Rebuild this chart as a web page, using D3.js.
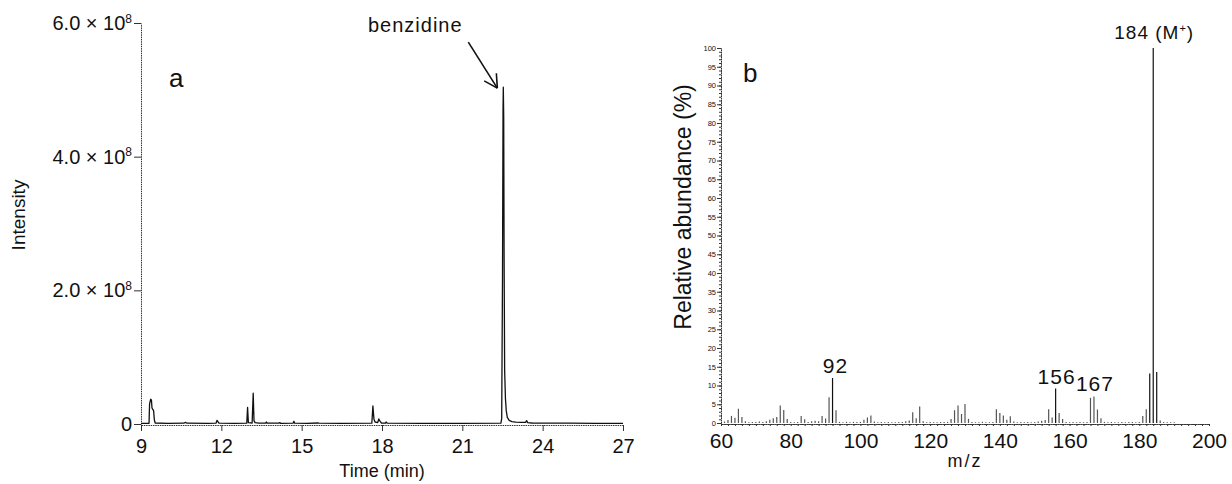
<!DOCTYPE html>
<html>
<head>
<meta charset="utf-8">
<script src="https://cdn.jsdelivr.net/npm/d3@7"></script>
<style>
  body { margin: 0; background: #fff; }
  svg { display: block; }
  text { font-family: "Liberation Sans", Arial, sans-serif; fill: #111; }
</style>
</head>
<body>
<div id="chart"></div>
<script>
// Data

// panel a: chromatogram (time in min, intensity in units of 10^8)
var traceTime = [9.00, 9.30, 9.32, 9.36, 9.39, 9.41, 9.44, 9.47, 9.50, 9.53,
  10.0, 10.6, 10.66, 10.72, 11.5, 11.80, 11.84, 11.88, 11.92, 12.5,
  12.95, 12.98, 13.01, 13.15, 13.19, 13.22, 13.26, 13.4, 13.66, 13.68,
  13.72, 14.15, 14.18, 14.22, 14.68, 14.71, 14.74, 15.2, 15.6, 15.65,
  16.5, 17.62, 17.66, 17.70, 17.74, 17.84, 17.88, 17.93, 17.98, 18.13,
  18.15, 18.2, 19.5, 21.0, 22.44, 22.47, 22.50, 22.52, 22.53, 22.545,
  22.56, 22.58, 22.61, 22.64, 22.68, 22.75, 22.85, 23.0, 23.2, 23.36,
  23.40, 23.44, 23.6, 24.5, 25.0, 26.0, 27.0];
var traceIntensity = [0.01, 0.01, 0.30, 0.37, 0.36, 0.24, 0.22, 0.20, 0.06, 0.015,
  0.01, 0.012, 0.025, 0.012, 0.01, 0.012, 0.055, 0.03, 0.012, 0.01,
  0.012, 0.25, 0.02, 0.015, 0.46, 0.05, 0.02, 0.012, 0.012, 0.03,
  0.012, 0.012, 0.02, 0.01, 0.012, 0.04, 0.012, 0.01, 0.015, 0.012,
  0.01, 0.012, 0.27, 0.07, 0.03, 0.02, 0.075, 0.04, 0.015, 0.012,
  0.03, 0.012, 0.01, 0.01, 0.012, 0.08, 2.2, 4.7, 5.04, 4.6,
  2.5, 0.8, 0.38, 0.2, 0.1, 0.055, 0.035, 0.028, 0.025, 0.025,
  0.05, 0.02, 0.015, 0.012, 0.014, 0.01, 0.01];
var timeTicks = [9, 12, 15, 18, 21, 24, 27];
var intensityTicks = [0, 2, 4, 6];
var benzidinePeak = 22.53;

// panel b: mass spectrum (m/z, relative abundance %)
var mzValues = [61, 62, 63, 64, 65, 66, 67, 68, 69, 70, 71, 72, 73, 74, 75, 76, 77, 78, 79, 80,
  81, 82, 83, 84, 85, 86, 87, 88, 89, 90, 91, 92, 93, 94, 95, 96, 97, 98, 99, 100,
  101, 102, 103, 104, 105, 106, 107, 108, 109, 110, 111, 112, 113, 114, 115, 116, 117, 118, 119, 120,
  121, 122, 123, 124, 125, 126, 127, 128, 129, 130, 131, 132, 133, 134, 135, 136, 137, 138, 139, 140,
  141, 142, 143, 144, 145, 146, 147, 148, 149, 150, 151, 152, 153, 154, 155, 156, 157, 158, 159, 160,
  161, 162, 163, 164, 165, 166, 167, 168, 169, 170, 171, 172, 173, 174, 175, 176, 177, 178, 179, 180,
  181, 182, 183, 184, 185, 186, 187, 188, 189, 190];
var abundance = [0.4, 0.8, 1.9, 1.4, 3.8, 1.6, 0.5, 0.2, 0.3, 0.3, 0.4, 0.3, 0.5, 0.9, 1.3, 1.6, 4.7, 3.5, 1.1, 0.3,
  0.2, 0.3, 1.9, 1.0, 0.3, 0.5, 0.6, 0.5, 1.9, 1.2, 6.9, 12.0, 3.4, 0.3, 0.2, 0.3, 0.2, 0.3, 0.3, 0.3,
  0.9, 1.5, 2.0, 0.4, 0.2, 0.3, 0.2, 0.3, 0.2, 0.2, 0.3, 0.3, 0.5, 0.7, 2.9, 1.3, 4.4, 0.5, 0.2, 0.3,
  0.2, 0.2, 0.3, 0.3, 0.3, 1.1, 3.4, 4.7, 2.4, 5.1, 1.1, 0.3, 0.2, 0.2, 0.3, 0.2, 0.2, 0.3, 3.7, 2.7,
  2.0, 0.9, 1.8, 0.4, 0.2, 0.3, 0.2, 0.3, 0.2, 0.3, 0.4, 0.6, 0.8, 3.7, 1.5, 9.2, 2.7, 1.1, 0.3, 0.2,
  0.3, 0.2, 0.3, 0.2, 0.3, 6.7, 7.1, 3.6, 1.3, 0.3, 0.2, 0.3, 0.2, 0.2, 0.3, 0.2, 0.3, 0.3, 0.2, 0.3,
  1.9, 3.7, 13.2, 100, 13.6, 0.7, 0.3, 0.2, 0.2, 0.2];
var mzTicks = [60, 80, 100, 120, 140, 160, 180, 200];
var abundanceTicks = [0, 5, 10, 15, 20, 25, 30, 35, 40, 45, 50, 55, 60, 65, 70, 75, 80, 85, 90, 95, 100];
var labelMz = [92, 156, 167, 184];
var labelText = ["92", "156", "167", "184"];

// Setup
var svgW = 1232;
var svgH = 484;

var svg = d3.select('#chart').append('svg')
    .attr('width', svgW)
    .attr('height', svgH)
    .style('background', '#fff');

// scales
var xA = d3.scaleLinear().domain([9, 27]).range([141, 623]);
var yA = d3.scaleLinear().domain([0, 6]).range([424, 23]);
var xB = d3.scaleLinear().domain([60, 200]).range([721, 1209]);
var yB = d3.scaleLinear().domain([0, 100]).range([423, 48]);

// style an axis: thin, slightly dotted like the scan
function styleAxis(g) {
    g.select('.domain').attr('stroke', '#333').attr('stroke-width', 1).attr('stroke-dasharray', '1.5,0.8');
    g.selectAll('.tick line').attr('stroke', '#333');
}

// ---------- panel a ----------
var pa = svg.append('g');

var axA_x = pa.append('g')
    .attr('transform', 'translate(0,' + (yA(0) + 1) + ')')
    .call(d3.axisBottom(xA).tickValues(timeTicks).tickSize(6).tickSizeOuter(0).tickPadding(8))
    .call(styleAxis);
axA_x.selectAll('.tick text').attr('font-size', 20).attr('fill', '#111');

var axA_y = pa.append('g')
    .attr('transform', 'translate(' + xA(9) + ',0)')
    .call(d3.axisLeft(yA).tickValues(intensityTicks).tickSize(7).tickSizeOuter(0).tickPadding(2))
    .call(styleAxis);
axA_y.selectAll('.tick text')
    .attr('font-size', 20)
    .attr('fill', '#111')
    .text(null)
    .each(function(d) {
        var t = d3.select(this);
        if (d === 0) {
            t.text('0');
        } else {
            t.append('tspan').text(d.toFixed(1) + ' \u00d7 10');
            t.append('tspan').attr('font-size', 12).attr('dy', '-0.6em').text('8');
        }
    });

// trace
var line = d3.line()
    .x(function(d) { return xA(d[0]); })
    .y(function(d) { return yA(d[1]); });
var tracePts = traceTime.map(function(t, i) { return [t, traceIntensity[i]]; });
pa.append('path')
    .datum(tracePts)
    .attr('d', line)
    .attr('fill', 'none')
    .attr('stroke', '#111')
    .attr('stroke-width', 1.3)
    .attr('stroke-linejoin', 'round');

// labels
pa.append('text')
    .attr('transform', 'translate(25,' + 215 + ') rotate(-90)')
    .attr('text-anchor', 'middle')
    .attr('font-size', 19)
    .text('Intensity');
pa.append('text')
    .attr('x', (xA(9) + xA(27)) / 2)
    .attr('y', 477)
    .attr('text-anchor', 'middle')
    .attr('font-size', 18)
    .text('Time (min)');
pa.append('text')
    .attr('x', 169)
    .attr('y', 87)
    .attr('font-size', 26)
    .text('a');

// benzidine arrow
var peakIdx = traceTime.indexOf(benzidinePeak);
var tipX = xA(benzidinePeak) - 6;
var tipY = yA(traceIntensity[peakIdx]) + 1;
var tailX = tipX - 29, tailY = tipY - 46;
pa.append('line')
    .attr('x1', tailX).attr('y1', tailY).attr('x2', tipX).attr('y2', tipY)
    .attr('stroke', '#111').attr('stroke-width', 1.6);
var ang = Math.atan2(tipY - tailY, tipX - tailX);
[-0.5, 0.5].forEach(function(o) {
    pa.append('line')
        .attr('x1', tipX).attr('y1', tipY)
        .attr('x2', tipX - 15 * Math.cos(ang + o))
        .attr('y2', tipY - 15 * Math.sin(ang + o))
        .attr('stroke', '#111').attr('stroke-width', 1.6);
});
pa.append('text')
    .attr('x', tipX - 82)
    .attr('y', 32)
    .attr('text-anchor', 'middle')
    .attr('font-size', 20)
    .attr('letter-spacing', 1)
    .text('benzidine');

// ---------- panel b ----------
var pb = svg.append('g');

// minor ticks on y (every 1 %)
pb.append('g')
    .attr('transform', 'translate(' + xB(60) + ',0)')
    .call(d3.axisLeft(yB).tickValues(d3.range(0, 101, 1)).tickSize(2).tickFormat(''))
    .call(styleAxis);
var axB_y = pb.append('g')
    .attr('transform', 'translate(' + xB(60) + ',0)')
    .call(d3.axisLeft(yB).tickValues(abundanceTicks).tickSize(4).tickSizeOuter(0).tickPadding(1))
    .call(styleAxis);
axB_y.selectAll('.tick text').attr('font-size', 7.5).attr('fill', '#222');

// minor ticks on x (every 2)
pb.append('g')
    .attr('transform', 'translate(0,' + (yB(0) + 1) + ')')
    .call(d3.axisBottom(xB).tickValues(d3.range(60, 201, 2)).tickSize(2).tickFormat(''))
    .call(styleAxis);
var axB_x = pb.append('g')
    .attr('transform', 'translate(0,' + (yB(0) + 1) + ')')
    .call(d3.axisBottom(xB).tickValues(mzTicks).tickSize(0).tickSizeOuter(0).tickPadding(9))
    .call(styleAxis);
axB_x.selectAll('.tick text').attr('font-size', 21).attr('fill', '#111');

// bars
pb.selectAll('line.bar')
    .data(mzValues)
    .enter().append('line')
        .attr('class', 'bar')
        .attr('x1', function(d) { return xB(d); })
        .attr('x2', function(d) { return xB(d); })
        .attr('y1', yB(0))
        .attr('y2', function(d, i) { return yB(abundance[i]); })
        .attr('stroke', function(d, i) { return abundance[i] > 8 ? '#111' : '#555'; })
        .attr('stroke-width', 1.2);

// peak labels
labelMz.forEach(function(m, i) {
    var a = abundance[mzValues.indexOf(m)];
    var t = pb.append('text')
        .attr('x', xB(m) + (m === 92 ? 3 : 1))
        .attr('y', yB(a) - (m === 184 ? 9 : 5))
        .attr('text-anchor', 'middle')
        .attr('font-size', m === 184 ? 19 : 21)
        .attr('letter-spacing', 1)
        .text(labelText[i]);
    if (m === 184) {
        t.append('tspan').text(' (M');
        t.append('tspan').attr('font-size', 11).attr('dy', -7).text('+');
        t.append('tspan').attr('dy', 7).text(')');
    }
});

pb.append('text')
    .attr('transform', 'translate(691,' + 207 + ') rotate(-90)')
    .attr('text-anchor', 'middle')
    .attr('font-size', 23)
    .text('Relative abundance (%)');
pb.append('text')
    .attr('x', (xB(60) + xB(200)) / 2)
    .attr('y', 467)
    .attr('text-anchor', 'middle')
    .attr('font-size', 18)
    .attr('letter-spacing', 2)
    .text('m/z');
pb.append('text')
    .attr('x', 743)
    .attr('y', 82)
    .attr('font-size', 26)
    .text('b');
</script>
</body>
</html>
